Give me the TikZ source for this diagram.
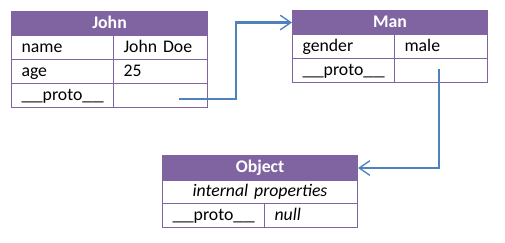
\documentclass[tikz,border=0pt]{standalone}
\usepackage{fontspec}
\usepackage{graphicx}
\setmainfont{Carlito}
\usetikzlibrary{arrows.meta}
\definecolor{hdr}{HTML}{8064A2}
\definecolor{arr}{HTML}{4F81BD}
\newcommand\us{\scalebox{1.2}[1]{\char95}}
\newcommand\tcell[7]{%
  \pgfmathsetmacro\cw{(#4)*0.75-15}%
  \pgfmathsetmacro\ch{(#5)*0.75}%
  \node[cellbox, text width=\cw pt, minimum height=\ch pt, #6] (#1) at (#2,#3) {#7};}
\begin{document}
\begin{tikzpicture}[x=0.75pt,y=-0.75pt,
  cellbox/.style={draw=hdr, line width=0.8pt, anchor=north west, inner xsep=7.5pt,
    inner ysep=0pt, align=left, text height=9.6pt, text depth=2.6pt,
    font=\fontsize{13.3}{15}\selectfont},
  hdrbox/.style={fill=hdr, align=center, text=white, font=\fontsize{13.3}{15}\selectfont\bfseries},
  link/.style={draw=arr, line width=1.6pt, -{Straight Barb[length=8pt,width=11pt,line width=1pt]}}]
\useasboundingbox (0,0) rectangle (505,242);
% John
\tcell{john}{11}{11}{196}{24}{hdrbox}{John}
\tcell{j1k}{11}{35}{102}{24}{}{name}
\tcell{j1v}{113}{35}{94}{24}{}{John Doe}
\tcell{j2k}{11}{59}{102}{24}{}{age}
\tcell{j2v}{113}{59}{94}{24}{}{25}
\tcell{j3k}{11}{83}{102}{24}{}{\us\us proto\us\us}
\tcell{j3v}{113}{83}{94}{24}{}{}
% Man
\tcell{man}{292}{10}{195}{24}{hdrbox}{Man}
\tcell{m1k}{292}{34}{102}{24}{}{gender}
\tcell{m1v}{394}{34}{93}{24}{}{male}
\tcell{m2k}{292}{58}{102}{24}{}{\us\us proto\us\us}
\tcell{m2v}{394}{58}{93}{24}{}{}
% Object
\tcell{object}{162}{155}{195}{25}{hdrbox}{Object}
\tcell{o1}{162}{180}{195}{23}{align=center}{\itshape internal properties}
\tcell{o2k}{162}{203}{102}{24}{}{\us\us proto\us\us}
\tcell{o2v}{264}{203}{93}{24}{}{\itshape null}
% links
\coordinate (s1) at (179,99);
\coordinate (s2) at (439,69);
\path[link] (s1) -- (236,99) |- (man.west);
\path[link] (s2) |- (object.east);
\end{tikzpicture}
\end{document}
